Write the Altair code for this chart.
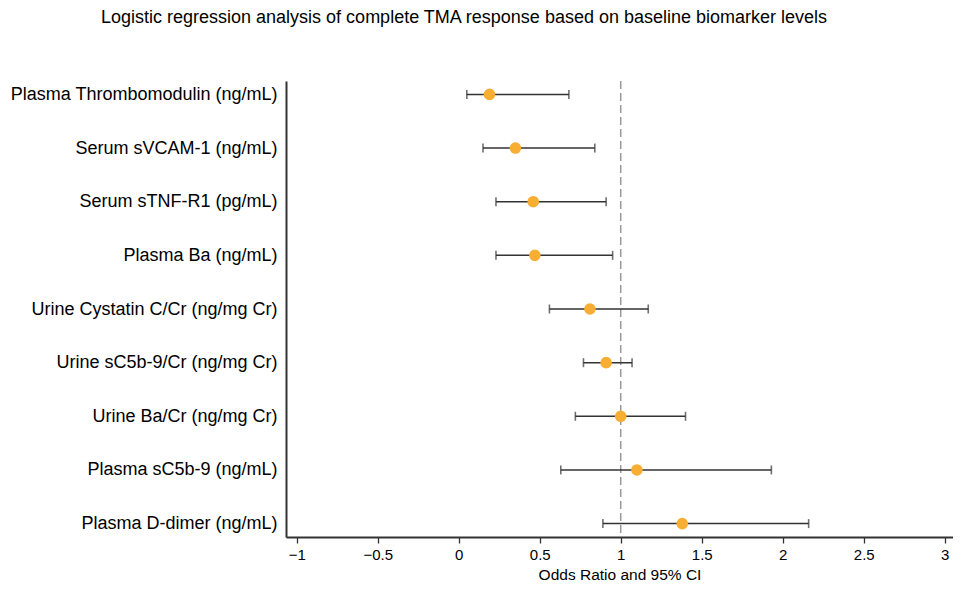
import altair as alt
import pandas as pd

biomarkers = [
    "Plasma Thrombomodulin (ng/mL)",
    "Serum sVCAM-1 (ng/mL)",
    "Serum sTNF-R1 (pg/mL)",
    "Plasma Ba (ng/mL)",
    "Urine Cystatin C/Cr (ng/mg Cr)",
    "Urine sC5b-9/Cr (ng/mg Cr)",
    "Urine Ba/Cr (ng/mg Cr)",
    "Plasma sC5b-9 (ng/mL)",
    "Plasma D-dimer (ng/mL)",
]
odds_ratio = [0.19, 0.35, 0.46, 0.47, 0.81, 0.91, 1.00, 1.10, 1.38]
ci_low = [0.05, 0.15, 0.23, 0.23, 0.56, 0.77, 0.72, 0.63, 0.89]
ci_high = [0.68, 0.84, 0.91, 0.95, 1.17, 1.07, 1.40, 1.93, 2.16]
x_ticks = [-1, -0.5, 0, 0.5, 1, 1.5, 2, 2.5, 3]

df = pd.DataFrame({"name": biomarkers, "or": odds_ratio, "lo": ci_low, "hi": ci_high})
ref = pd.DataFrame({"x": [1]})

FONT = "Liberation Sans"
xscale = alt.Scale(domain=[-1.066, 3.051], nice=False, zero=False)
yscale = alt.Scale(type="point", padding=0.25)

xenc = alt.X(
    "or:Q", scale=xscale,
    axis=alt.Axis(values=x_ticks, format="~g", title="Odds Ratio and 95% CI", grid=False,
                  labelFontSize=15, titleFontSize=15.5, titleFontWeight="normal",
                  labelFont=FONT, titleFont=FONT, domainColor="#333", domainWidth=2,
                  tickColor="#333", tickSize=6, tickWidth=1.3, labelColor="#000",
                  titleColor="#000", labelPadding=4, titlePadding=5),
)
yenc = alt.Y(
    "name:N", sort=biomarkers, scale=yscale,
    axis=alt.Axis(title=None, ticks=False, grid=False, labelFontSize=18, labelFont=FONT,
                  labelColor="#000", domainColor="#333", domainWidth=2, labelPadding=9,
                  labelLimit=400),
)

refline = alt.Chart(ref).mark_rule(color="#999", strokeDash=[8, 4], strokeWidth=1.5).encode(
    x=alt.X("x:Q", scale=xscale)
)
bars = alt.Chart(df).mark_rule(color="#333", strokeWidth=1.5).encode(
    x=alt.X("lo:Q", scale=xscale), x2="hi:Q", y=yenc
)
cap_lo = alt.Chart(df).mark_tick(color="#333", orient="vertical", size=9, thickness=1.6).encode(
    x=alt.X("lo:Q", scale=xscale), y=alt.Y("name:N", sort=biomarkers, scale=yscale)
)
cap_hi = alt.Chart(df).mark_tick(color="#333", orient="vertical", size=9, thickness=1.6).encode(
    x=alt.X("hi:Q", scale=xscale), y=alt.Y("name:N", sort=biomarkers, scale=yscale)
)
pts = alt.Chart(df).mark_circle(color="#F8AD33", opacity=1, size=135).encode(
    x=xenc, y=alt.Y("name:N", sort=biomarkers, scale=yscale)
)

chart = alt.layer(refline, bars, cap_lo, cap_hi, pts).properties(
    width=667, height=456,
    autosize=alt.AutoSizeParams(type="none"),
    padding={"left": 278, "top": 73, "right": 0, "bottom": 47},
    title=alt.TitleParams(
        "Logistic regression analysis of complete TMA response based on baseline biomarker levels",
        anchor="start", frame="group", dx=-185, offset=53, fontSize=18, fontWeight="normal",
        font=FONT, color="#000",
    ),
).configure_view(stroke=None)

chart.save("out.html", embed_options={"renderer": "svg", "actions": False})
